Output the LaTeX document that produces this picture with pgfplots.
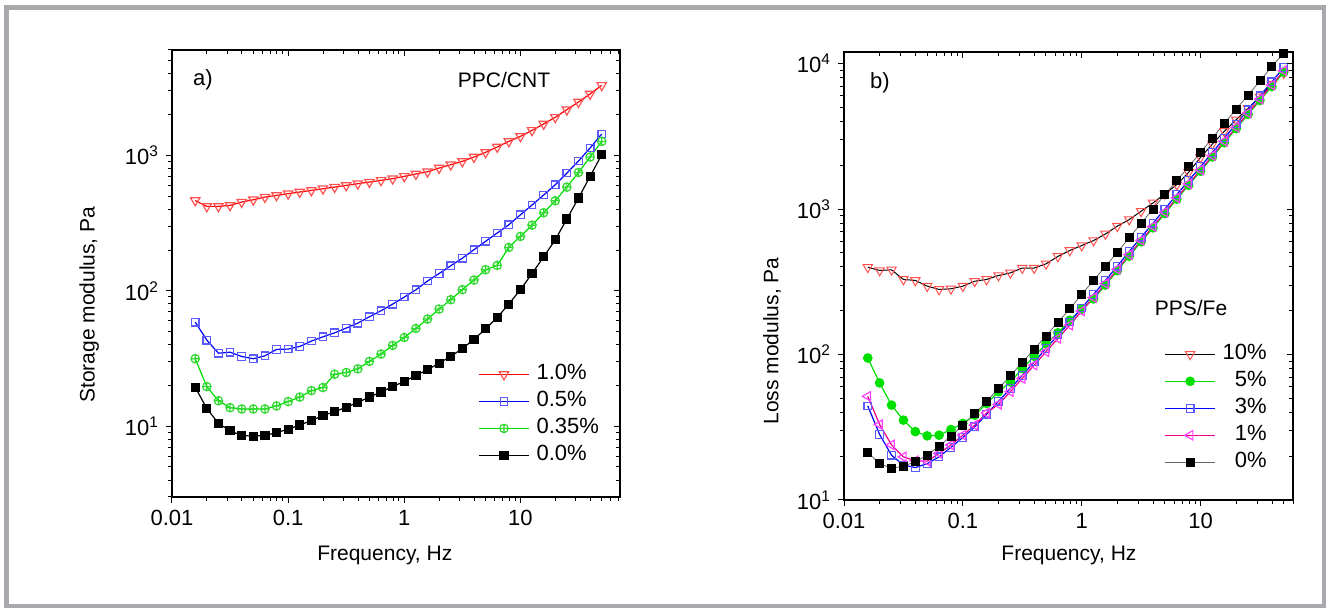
\documentclass[border=0pt]{standalone}
\usepackage{fontspec}
\setmainfont{Liberation Sans}
\usepackage{pgfplots}
\pgfplotsset{compat=1.18}
\usepackage{pgfplotstable}
\usetikzlibrary{plotmarks}

\definecolor{framegray}{HTML}{A9A9AD}
\definecolor{mred}{HTML}{FF5050}
\definecolor{mblue}{HTML}{5A5AFF}
\definecolor{lgreen}{HTML}{00E000}
\definecolor{mgreen}{HTML}{30D830}
\definecolor{mmag}{HTML}{FF40FF}

% storage modulus, PPC/CNT
\pgfplotstableread{
f       a     b      c     d
0.01585 464   58.7   31.5  19.4
0.01995 420   43.2   19.6  13.5
0.02512 420   34.6   15.4  10.5
0.03162 427   35.2   13.7  9.24
0.03981 452   32.7   13.4  8.54
0.05012 470   31.5   13.4  8.44
0.06310 492   33.1   13.4  8.54
0.07943 506   36.9   14.1  8.97
0.1     521   37.1   15.2  9.50
0.1259  536   38.8   16.4  10.2
0.1585  551   42.5   18.3  11.0
0.1995  567   45.7   19.3  12.0
0.2512  583   48.9   24.2  12.8
0.3162  600   53.0   24.9  13.8
0.3981  618   57.7   26.5  15.0
0.5012  635   64.3   30.1  16.4
0.6310  654   71.2   34.1  17.9
0.7943  673   79.7   39.5  19.6
1       700   89.8   45.2  21.4
1.259   728   101.7  52.7  23.7
1.585   757   118    61.8  26.1
1.995   806   134    73.3  29.2
2.512   853   153    85.9  32.7
3.162   903   174    102   37.5
3.981   972   201    120   43.7
5.012   1052  232    143   52.4
6.310   1153  267    154   63.5
7.943   1268  307    209   79.7
10      1381  364    252   102
12.59   1530  430    305   134
15.85   1705  509    377   178
19.95   1910  607    462   238
25.12   2175  740    583   339
31.62   2476  908    748   484
39.81   2840  1133   972   700
50.12   3290  1438   1268  1011
}\tabL

% loss modulus, PPS/Fe
\pgfplotstableread{
f       a     b      c      d      e
0.01585 398   94.6   44.3   51.6   21.2
0.01995 378   63.8   28.2   33.0   17.8
0.02512 382   44.9   20.3   23.9   16.5
0.03162 328   35.4   17.4   19.8   17.1
0.03981 323   29.5   16.7   18.6   18.3
0.05012 295   27.6   17.8   18.5   20.3
0.06310 280   27.9   19.8   20.9   23.4
0.07943 283   30.5   23.0   23.9   27.5
0.1     295   33.6   26.9   27.9   32.7
0.1259  319   38.3   31.8   32.7   39.3
0.1585  328   46.1   38.9   39.7   47.7
0.1995  349   55.4   47.7   45.5   58.3
0.2512  364   64.8   58.3   55.5   71.3
0.3162  393   80.0   71.9   68.5   87.9
0.3981  393   97.2   88.9   84.5   109
0.5012  420   118    110    104.5  134
0.6310  472   141    136    129    167
0.7943  519   172    167    159    206
1       561   205    209    199    259
1.259   607   241    259    246    323
1.585   674   300    323    307    403
1.995   762   377    405    385    505
2.512   846   474    510    485    634
3.162   965   595    640    608    798
3.981   1101  742    798    758    1000
5.012   1270  930    1000   950    1256
6.310   1470  1168   1256   1193   1567
7.943   1786  1457   1567   1489   1954
10      2264  1817   1954   1856   2449
12.59   2797  2278   2449   2327   3073
15.85   3418  2858   3073   2919   3875
19.95   4108  3567   3836   3644   4862
25.12   4913  4471   4808   4568   6067
31.62   5904  5578   5998   5698   7605
39.81   7211  6956   7480   7106   9537
50.12   8587  8733   9390   8920   11770
}\tabR

\begin{document}
\begin{tikzpicture}
\path[use as bounding box] (0,0) rectangle (663pt,304pt);
\draw[framegray, line width=2.5pt] (3.25pt,0.5pt) rectangle (662pt,300.25pt);

% (a)
\begin{loglogaxis}[
  scale only axis,
  at={(86pt,55.5pt)}, anchor=south west, width=224pt, height=223.5pt,
  xmin=0.01, xmax=72, ymin=3, ymax=6000,
  axis line style={line width=0.8pt},
  tick style={black, line width=0.5pt},
  major tick length=3pt, minor tick length=2pt,
  tick align=outside, xtick pos=left, ytick pos=left,
  tick label style={font=\fontsize{11}{13}\selectfont},
  xtick={0.01,0.1,1,10}, xticklabels={0.01,0.1,1,10},
  minor xtick={0.02,0.03,0.04,0.05,0.06,0.07,0.08,0.09,0.2,0.3,0.4,0.5,0.6,0.7,0.8,0.9,2,3,4,5,6,7,8,9,20,30,40,50,60,70},
  ytick={10,100,1000},
  yticklabels={10\textsuperscript{1},10\textsuperscript{2},10\textsuperscript{3}},
  minor ytick={3,4,5,6,7,8,9,20,30,40,50,60,70,80,90,200,300,400,500,600,700,800,900,2000,3000,4000,5000,6000},
  xlabel={Frequency, Hz}, ylabel={Storage modulus, Pa},
  xlabel style={font=\fontsize{10.5}{12}\selectfont, at={(axis description cs:0.475,-0.13)}, anchor=center},
  ylabel style={font=\fontsize{10.5}{12}\selectfont, at={(axis description cs:-0.185,0.43)}, anchor=center},
  legend cell align=left,
  legend style={at={(axis description cs:0.683,0.303)}, anchor=north west,
    draw=none, fill=none, inner sep=0pt,
    nodes={inner sep=1pt, text height=8pt, text depth=2.5pt},
    font=\fontsize{11}{13}\selectfont, row sep=1pt,
    /tikz/every odd column/.append style={column sep=2.5pt}},
  legend image code/.code={\draw[mark repeat=2, mark phase=2, #1] plot coordinates {(0pt,0pt) (12.5pt,0pt) (25pt,0pt)};},
]
\addplot[red, line width=0.6pt, mark=triangle, mark size=2.7pt,
  mark options={rotate=180, draw=mred, fill=white, solid}] table[x=f, y=a] {\tabL};
\addlegendentry{1.0\%}
\addplot[blue, line width=0.6pt, mark=square, mark size=1.9pt,
  mark options={draw=mblue, fill=white, solid}] table[x=f, y=b] {\tabL};
\addlegendentry{0.5\%}
\addplot[lgreen, line width=0.6pt, mark=oplus, mark size=2.1pt,
  mark options={draw=mgreen, fill=white, solid}] table[x=f, y=c] {\tabL};
\addlegendentry{0.35\%}
\addplot[black, line width=0.6pt, mark=square*, mark size=2pt,
  mark options={fill=black, solid}] table[x=f, y=d] {\tabL};
\addlegendentry{0.0\%}
\end{loglogaxis}
\begin{loglogaxis}[
  scale only axis,
  at={(86pt,55.5pt)}, anchor=south west, width=224pt, height=223.5pt,
  xmin=0.01, xmax=72, ymin=3, ymax=6000,
  axis line style={line width=0.8pt},
  tick style={black, line width=0.5pt},
  major tick length=3pt, minor tick length=2pt,
  tick align=inside, xtick pos=right, ytick pos=right,
  xtick={0.01,0.1,1,10}, xticklabels={},
  minor xtick={0.02,0.03,0.04,0.05,0.06,0.07,0.08,0.09,0.2,0.3,0.4,0.5,0.6,0.7,0.8,0.9,2,3,4,5,6,7,8,9,20,30,40,50,60,70},
  ytick={10,100,1000}, yticklabels={},
  minor ytick={3,4,5,6,7,8,9,20,30,40,50,60,70,80,90,200,300,400,500,600,700,800,900,2000,3000,4000,5000,6000},
]
\addplot[draw=none] table[x=f, y=d] {\tabL};
\end{loglogaxis}

% (b)
\begin{loglogaxis}[
  scale only axis,
  at={(422pt,54pt)}, anchor=south west, width=224.5pt, height=224pt,
  xmin=0.01, xmax=60, ymin=10, ymax=12000,
  axis line style={line width=0.8pt},
  tick style={black, line width=0.5pt},
  major tick length=3pt, minor tick length=2pt,
  tick align=outside, xtick pos=left, ytick pos=left,
  tick label style={font=\fontsize{11}{13}\selectfont},
  xtick={0.01,0.1,1,10}, xticklabels={0.01,0.1,1,10},
  minor xtick={0.02,0.03,0.04,0.05,0.06,0.07,0.08,0.09,0.2,0.3,0.4,0.5,0.6,0.7,0.8,0.9,2,3,4,5,6,7,8,9,20,30,40,50,60},
  ytick={10,100,1000,10000},
  yticklabels={10\textsuperscript{1},10\textsuperscript{2},10\textsuperscript{3},10\textsuperscript{4}},
  minor ytick={20,30,40,50,60,70,80,90,200,300,400,500,600,700,800,900,2000,3000,4000,5000,6000,7000,8000,9000},
  xlabel={Frequency, Hz}, ylabel={Loss modulus, Pa},
  xlabel style={font=\fontsize{10.5}{12}\selectfont, at={(axis description cs:0.501,-0.123)}, anchor=center},
  ylabel style={font=\fontsize{10.5}{12}\selectfont, at={(axis description cs:-0.16,0.355)}, anchor=center},
  legend cell align=right,
  legend style={at={(axis description cs:0.713,0.354)}, anchor=north west,
    draw=none, fill=none, inner sep=0pt,
    nodes={inner sep=1pt, text height=8pt, text depth=2.5pt},
    font=\fontsize{11}{13}\selectfont, row sep=1pt,
    /tikz/every odd column/.append style={column sep=2.5pt}},
  legend image code/.code={\draw[mark repeat=2, mark phase=2, #1] plot coordinates {(0pt,0pt) (12.5pt,0pt) (25pt,0pt)};},
]
\addplot[black, line width=0.5pt, mark=triangle, mark size=2.7pt,
  mark options={rotate=180, draw=mred, fill=white, solid}] table[x=f, y=a] {\tabR};
\addlegendentry{10\%}
\addplot[lgreen, line width=0.6pt, mark=*, mark size=2.1pt,
  mark options={draw=lgreen, fill=lgreen, solid}] table[x=f, y=b] {\tabR};
\addlegendentry{5\%}
\addplot[blue, line width=0.6pt, mark=square, mark size=1.9pt,
  mark options={draw=mblue, fill=white, solid}] table[x=f, y=c] {\tabR};
\addlegendentry{3\%}
\addplot[magenta, line width=0.6pt, mark=triangle, mark size=2.7pt,
  mark options={rotate=90, draw=mmag, fill=white, solid}] table[x=f, y=d] {\tabR};
\addlegendentry{1\%}
\addplot[black!60, line width=0.4pt, mark=square*, mark size=2pt,
  mark options={draw=black, fill=black, solid}] table[x=f, y=e] {\tabR};
\addlegendentry{0\%}
\end{loglogaxis}
\begin{loglogaxis}[
  scale only axis,
  at={(422pt,54pt)}, anchor=south west, width=224.5pt, height=224pt,
  xmin=0.01, xmax=60, ymin=10, ymax=12000,
  axis line style={line width=0.8pt},
  tick style={black, line width=0.5pt},
  major tick length=3pt, minor tick length=2pt,
  tick align=inside, xtick pos=right, ytick pos=right,
  xtick={0.01,0.1,1,10}, xticklabels={},
  minor xtick={0.02,0.03,0.04,0.05,0.06,0.07,0.08,0.09,0.2,0.3,0.4,0.5,0.6,0.7,0.8,0.9,2,3,4,5,6,7,8,9,20,30,40,50,60},
  ytick={10,100,1000,10000}, yticklabels={},
  minor ytick={20,30,40,50,60,70,80,90,200,300,400,500,600,700,800,900,2000,3000,4000,5000,6000,7000,8000,9000},
]
\addplot[draw=none] table[x=f, y=e] {\tabR};
\end{loglogaxis}

\node[font=\fontsize{11}{13}\selectfont] at (101.5pt,264pt) {a)};
\node[font=\fontsize{10.5}{12}\selectfont] at (252pt,264pt) {PPC/CNT};
\node[font=\fontsize{11}{13}\selectfont] at (440pt,262.5pt) {b)};
\node[font=\fontsize{10.5}{12}\selectfont] at (595.5pt,150pt) {PPS/Fe};
\end{tikzpicture}
\end{document}
